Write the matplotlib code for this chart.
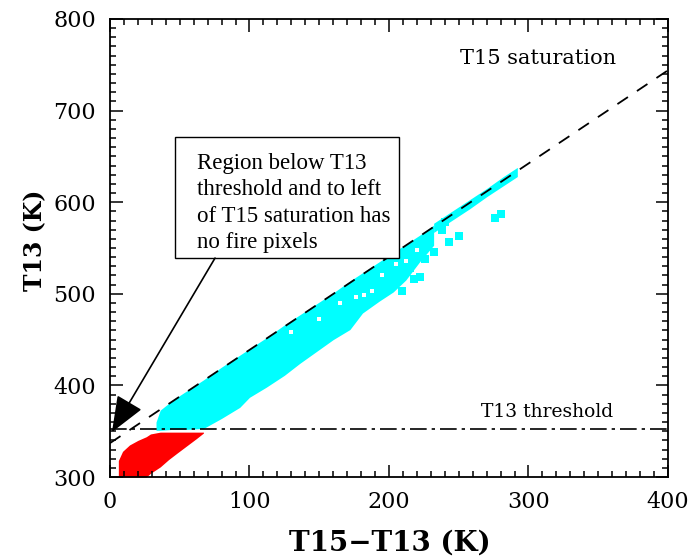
import matplotlib
matplotlib.use("Agg")
import matplotlib.pyplot as plt
from matplotlib.patches import Rectangle
from matplotlib.ticker import MultipleLocator

# --- data ------------------------------------------------------------------
# dense cyan cloud (pixels above T13 threshold): envelope of the point cloud
cyan_x  = [33, 36, 45, 55, 67, 80, 93, 100, 112, 125, 136, 148, 160, 172, 181, 193, 203, 212, 222, 232]
cyan_lo = [351, 351, 352, 352, 353, 364, 376, 387, 398, 411, 424, 437, 450, 461, 479, 492, 502, 515, 535, 553]
cyan_hi = [360, 373, 384, 394, 406, 420, 433, 440, 452, 466, 477, 489, 501, 514, 523, 535, 545, 554, 564, 575]

# thin cyan strip hugging the saturation line at the high end
strip_x  = [232, 245, 258, 270, 282, 292]
strip_lo = [567, 580, 593, 606, 618, 628]
strip_hi = [577, 590, 603, 615, 628, 638]

# isolated cyan clumps
blob_x = [209, 215, 218, 222, 226, 232, 238, 240, 243, 250, 276, 280]
blob_y = [503, 528, 516, 518, 538, 546, 570, 578, 557, 563, 583, 587]

# white gaps inside the cloud
gap_x = [130, 150, 165, 176, 182, 188, 195, 205, 212, 220]
gap_y = [458, 472, 490, 496, 499, 503, 521, 532, 536, 548]

# red cloud (pixels below T13 threshold)
red_x  = [6, 9, 14, 20, 26, 29, 36, 42, 48, 55, 62, 67]
red_lo = [300, 300, 300, 300, 300, 304, 311, 319, 326, 334, 342, 348]
red_hi = [318, 328, 335, 340, 344, 347, 349, 349, 349, 349, 349, 349]

# T15 saturation line and T13 threshold
sat_x = [0, 400]
sat_y = [337, 744]
thresh_T13 = 352

note = "Region below T13\nthreshold and to left\nof T15 saturation has\nno fire pixels"

# --- plot ------------------------------------------------------------------
fig = plt.figure(figsize=(6.93, 5.57), dpi=100)
ax = fig.add_axes([0.1587, 0.1436, 0.8052, 0.8223])

ax.fill_between(cyan_x, cyan_lo, cyan_hi, color="#00ffff", lw=0, zorder=1)
ax.fill_between(strip_x, strip_lo, strip_hi, color="#00ffff", lw=0, zorder=1)
ax.scatter(blob_x, blob_y, s=40, marker="s", color="#00ffff", lw=0, zorder=1)
ax.scatter(gap_x, gap_y, s=8, marker="s", color="white", lw=0, zorder=2)
ax.fill_between(red_x, red_lo, red_hi, color="#ff0000", lw=0, zorder=1)

ax.plot(sat_x, sat_y, color="black", lw=1.3, linestyle=(0, (7, 6)), zorder=3)
ax.axhline(thresh_T13, color="black", lw=1.2, linestyle=(0, (10, 3, 2, 3)), zorder=3)

ax.text(307, 757, "T15 saturation", ha="center", va="center",
        family="DejaVu Serif", fontsize=15)
ax.text(313, 371, "T13 threshold", ha="center", va="center",
        family="DejaVu Serif", fontsize=13.5)

# note box with arrow
ax.add_patch(Rectangle((46.6, 539), 160.6, 132, fc="white", ec="black",
                       lw=1, zorder=5))
ax.text(62.4, 599, note, ha="left", va="center", family="Liberation Serif",
        fontsize=16.5, linespacing=1.33, zorder=6)
ax.annotate("", xy=(1.4, 349), xytext=(75.3, 539),
            arrowprops=dict(arrowstyle="-|>,head_length=1.5,head_width=0.6",
                            mutation_scale=15, color="black", lw=1.2,
                            shrinkA=0, shrinkB=0),
            zorder=5)

ax.set_xlim(0, 400)
ax.set_ylim(300, 800)
ax.xaxis.set_major_locator(MultipleLocator(100))
ax.xaxis.set_minor_locator(MultipleLocator(10))
ax.yaxis.set_major_locator(MultipleLocator(100))
ax.yaxis.set_minor_locator(MultipleLocator(10))
ax.tick_params(which="both", direction="in", top=True, right=True, width=1.1)
ax.tick_params(which="major", length=9, labelsize=16, pad=10)
ax.tick_params(which="minor", length=4.5)
for lab in ax.get_xticklabels() + ax.get_yticklabels():
    lab.set_family("DejaVu Serif")
for sp in ax.spines.values():
    sp.set_linewidth(1.3)

ax.set_xlabel("T15\u2212T13 (K)", family="DejaVu Serif", fontsize=20,
              fontweight="bold", va="center")
ax.set_ylabel("T13 (K)", family="DejaVu Serif", fontsize=17,
              fontweight="bold", va="center")
ax.xaxis.set_label_coords(0.502, -0.144)
ax.yaxis.set_label_coords(-0.134, 0.517)

fig.savefig("out.png", dpi=100)
